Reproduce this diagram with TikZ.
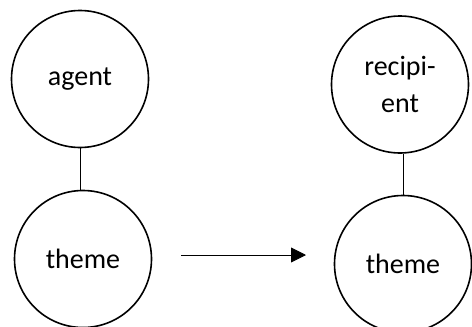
\documentclass[tikz,border=0pt]{standalone}
\usepackage{fontspec}
\setmainfont{Carlito}
\usetikzlibrary{arrows.meta}
\begin{document}
\begin{tikzpicture}[x=1pt,y=-1pt,
  role/.style={circle, draw, line width=1.6pt, minimum size=137pt, inner sep=0pt,
    align=center, font=\fontsize{28}{37}\selectfont},
  link/.style={line width=0.9pt},
  move/.style={line width=0.9pt, -{Triangle[length=15pt,width=15pt]}}]
\useasboundingbox (0,0) rectangle (472,327);
\clip (0,0) rectangle (472,327);
% before: agent with theme
\node[role] (agent) at (80,79) {agent};
\node[role] (themeA) at (83,259) {theme};
\draw[link] (agent) -- (agent |- themeA.north);
% after: recipient with theme
\node[role] (recip) at (400,84.5) {recipi-\\ent};
\node[role] (themeB) at (403,264) {theme};
\draw[link] (recip.south -| themeB.north) -- (themeB);
% transfer arrow
\coordinate (arrS) at (181,255);
\coordinate (arrE) at (306,255);
\draw[move] (arrS) -- (arrE);
\end{tikzpicture}
\end{document}
